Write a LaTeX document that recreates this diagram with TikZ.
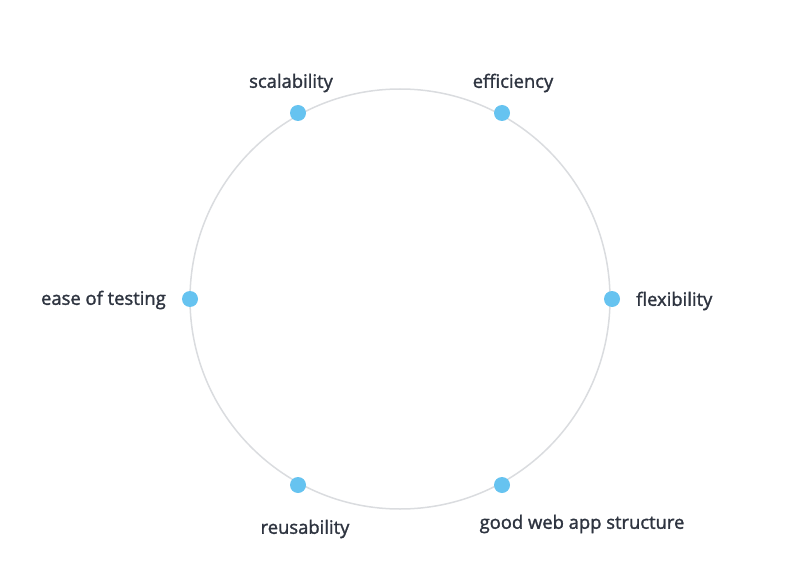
\documentclass[tikz,border=0pt]{standalone}
\usepackage{fontspec}
\setmainfont{Open Sans}
\newfontfamily\lblfont{Open Sans}[FakeBold=1.6]
\usepackage{tikz}

\definecolor{ringgray}{HTML}{DADCDF}
\definecolor{dotblue}{HTML}{66C3F0}
\definecolor{textdark}{HTML}{2E3440}

\tikzset{
    dot/.style={circle,fill=dotblue,inner sep=0pt,minimum size=16pt},
    lbl/.style={text=textdark,font=\lblfont\fontsize{18.4}{22}\selectfont,inner sep=0pt}
}

\begin{document}
\begin{tikzpicture}[x=1pt,y=-1pt]
            \useasboundingbox (0,0) rectangle (800,580);
            \draw[ringgray,line width=1.5pt] (400,299) circle (210);
            
            %dots
            \node[dot] (sc) at (298,113) {};
            \node[dot] (ef) at (502,113) {};
            \node[dot] (fl) at (612,299) {};
            \node[dot] (et) at (190,299) {};
            \node[dot] (re) at (298,485) {};
            \node[dot] (gw) at (502,485) {};
            
            %labels
            \node[lbl] at (291,83) {scalability};
            \node[lbl] at (513,83) {efficiency};
            \node[lbl,anchor=west] at (636,301) {flexibility};
            \node[lbl,anchor=east] at (166,300) {ease of testing};
            \node[lbl] at (305,529) {reusability};
            \node[lbl] at (582,524) {good web app structure};
        \end{tikzpicture}
\end{document}
